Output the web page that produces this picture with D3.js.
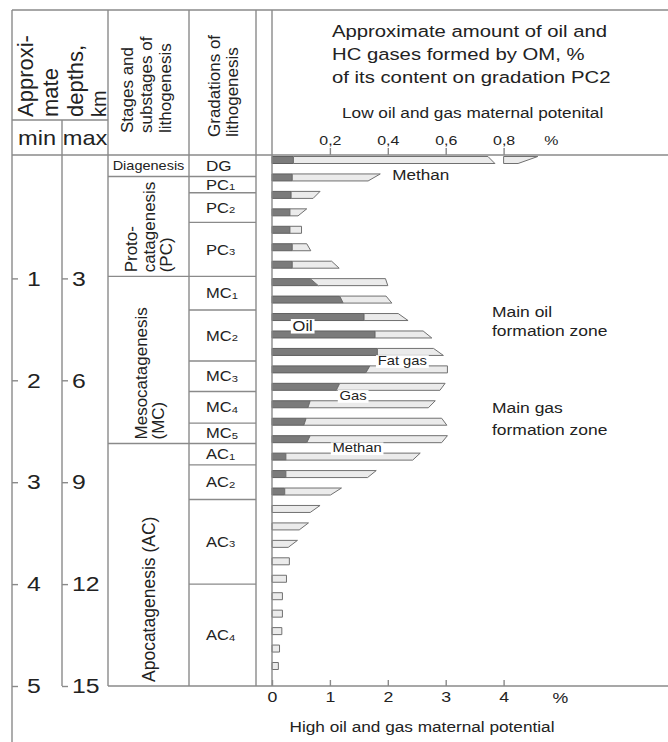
<!DOCTYPE html>
<html><head><meta charset="utf-8">
<script src="https://cdn.jsdelivr.net/npm/d3@7"></script>
<style>
html,body{margin:0;padding:0;background:#fff;}
svg{display:block;font-family:"Liberation Sans", Arial, sans-serif;}
</style></head><body>
<svg id="chart" width="668" height="742"></svg>
<script>
// ---------- data ----------
const minDepthTicks = [1, 2, 3, 4, 5];
const maxDepthTicks = [3, 6, 9, 12, 15];
const stageLabels = [["Diagenesis"], ["Proto-", "catagenesis", "(PC)"], ["Mesocatagenesis", "(MC)"], ["Apocatagenesis (AC)"]];
const stageTop = [null, 0, 0.98, 2.62];      // km of min depth (null = header)
const stageBottom = [0, 0.98, 2.62, 5];
const gradBase = ["DG","PC","PC","PC","MC","MC","MC","MC","MC","AC","AC","AC","AC"];
const gradSub  = ["","1","2","3","1","2","3","4","5","1","2","3","4"];
const gradTop    = [null, 0, 0.16, 0.45, 0.98, 1.31, 1.81, 2.11, 2.42, 2.62, 2.83, 3.17, 4.0];
const gradBottom = [0, 0.16, 0.45, 0.98, 1.31, 1.81, 2.11, 2.42, 2.62, 2.83, 3.17, 4.0, 5.0];
// bars, % (high potential scale); top / bottom edge of the slanted ends
const oilTop = [0.37,0.35,0.33,0.31,0.31,0.35,0.35,0.66,1.17,1.59,1.78,1.82,1.69,1.17,0.66,0.59,0.66,0.24,0.24,0.22,0,0,0,0,0,0,0,0,0,0];
const oilBot = [0.37,0.35,0.33,0.31,0.31,0.35,0.35,0.80,1.23,1.59,1.78,1.82,1.62,1.11,0.62,0.55,0.60,0.24,0.24,0.22,0,0,0,0,0,0,0,0,0,0];
const totTop = [4.59,1.87,0.83,0.60,0.51,0.60,1.03,1.96,1.97,2.18,2.61,2.79,3.03,2.99,2.82,2.93,3.03,2.56,1.80,1.20,0.83,0.63,0.44,0.30,0.25,0.18,0.18,0.17,0.13,0.11];
const totBot = [4.25,1.66,0.71,0.45,0.51,0.67,1.16,2.00,2.07,2.35,2.76,2.96,3.03,2.90,2.70,3.02,2.93,2.43,1.65,1.01,0.66,0.47,0.28,0.30,0.25,0.18,0.18,0.17,0.13,0.11];
const breakFrom = [3.73, 3.85];  // axis break (top, bottom edge)
const breakTo = 4.0;
const topTicks = [0.2, 0.4, 0.6, 0.8];
const bottomTicks = [0, 1, 2, 3, 4];
const titleLines = ["Approximate amount of oil and", "HC gases formed by OM, %", "of its content on gradation PC2"];
const lowLabel = "Low oil and gas maternal potenital";
const highLabel = "High oil and gas maternal potential";
const zoneLabels = [["Main oil", "formation zone"], ["Main gas", "formation zone"]];
const barNotes = [
  {text: "Methan", v: 2.57, a: 1, b: 1, fs: 14.5, bg: false},
  {text: "Oil", v: 0.53, a: 9, b: 10, fs: 14, bg: true},
  {text: "Fat gas", v: 2.25, a: 11, b: 12, fs: 12.5, bg: true},
  {text: "Gas", v: 1.40, a: 13, b: 14, fs: 12.5, bg: true},
  {text: "Methan", v: 1.47, a: 16, b: 17, fs: 12.5, bg: true}
];

// ---------- setup ----------
const S = 1.18;
const svg = d3.select("#chart");
const LC = "#8a8a8a", LW = 1.4, TC = "#222";
const x = d3.scaleLinear().domain([0, 4]).range([272, 503.6]);
const xTop = d3.scaleLinear().domain([0, 0.8]).range([272, 503.6]);
const depth = d3.scaleLinear().domain([0, 5]).range([176.5, 686]);
const depthMax = d3.scaleLinear().domain([0, 15]).range([176.5, 686]);
const barY = d3.scalePoint().domain(d3.range(oilTop.length)).range([160, 666]);
const HEAD = 155;

function line(x1, y1, x2, y2) {
  svg.append("line").attr("x1", x1).attr("y1", y1).attr("x2", x2).attr("y2", y2)
    .attr("stroke", LC).attr("stroke-width", LW);
}
function stext(parent, px, py, str, fs, anchor, rot) {
  return parent.append("text")
    .attr("transform", `translate(${px},${py}) scale(${S},1)` + (rot ? " rotate(-90)" : ""))
    .attr("font-size", fs).attr("text-anchor", anchor || "start").attr("fill", TC).text(str);
}
function stretchAxisText(g) {
  g.selectAll("text").each(function() {
    const t = d3.select(this);
    const tx = +t.attr("x") || 0, ty = +t.attr("y") || 0;
    t.attr("x", null).attr("y", null).attr("transform", `translate(${tx},${ty}) scale(${S},1)`).attr("fill", TC);
  });
}

// ---------- bars ----------
const poly = d3.line();
const bars = svg.append("g");
oilTop.forEach((_, i) => {
  const yT = barY(i) - 3.5, yB = barY(i) + 3.5;
  if (oilTop[i] > 0) {
    bars.append("path").attr("d", poly([[x(0), yT], [x(oilTop[i]), yT], [x(oilBot[i]), yB], [x(0), yB]]) + "Z")
      .attr("fill", "#7b7b7b").attr("stroke", "#606060").attr("stroke-width", 1);
  }
  const pieces = totTop[i] > breakTo
    ? [[[x(oilTop[i]), yT], [x(breakFrom[0]), yT], [x(breakFrom[1]), yB], [x(oilBot[i]), yB]],
       [[x(breakTo), yT], [x(totTop[i]), yT], [x(totBot[i]), yB], [x(breakTo), yB]]]
    : [[[x(oilTop[i]), yT], [x(totTop[i]), yT], [x(totBot[i]), yB], [x(oilBot[i]), yB]]];
  pieces.forEach(p => bars.append("path").attr("d", poly(p) + "Z")
    .attr("fill", "#ebebeb").attr("stroke", "#707070").attr("stroke-width", 1));
});

// ---------- table lines ----------
line(12, 10, 668, 10);
line(12, HEAD, 668, HEAD);
line(12, 120, 108, 120);
line(12, 10, 12, 742);
line(62, 120, 62, 686);
[108, 189, 256, 272].forEach(v => line(v, 10, v, 686));
line(108, 686, 668, 686);
stageTop.forEach(t => { if (t !== null) line(108, depth(t), 256, depth(t)); });
gradTop.forEach(t => { if (t !== null && !stageTop.includes(t)) line(189, depth(t), 256, depth(t)); });

// ---------- header texts ----------
const hd = svg.append("g");
[["Approxi-", 33, 22], ["mate", 58, 22], ["depths,", 83, 22], ["km", 106, 20]].forEach(d =>
  hd.append("text").attr("transform", `translate(${d[1]},117) rotate(-90)`).attr("font-size", d[2]).attr("fill", TC).text(d[0]));
stext(hd, 37, 145, "min", 20, "middle");
stext(hd, 85, 145, "max", 20, "middle");
[["Stages and", 133], ["substages of", 152], ["lithogenesis", 171]].forEach(d =>
  hd.append("text").attr("transform", `translate(${d[1]},133) rotate(-90)`).attr("font-size", 17).attr("fill", TC).text(d[0]));
[["Gradations of", 220], ["lithogenesis", 238]].forEach(d =>
  hd.append("text").attr("transform", `translate(${d[1]},137) rotate(-90)`).attr("font-size", 17).attr("fill", TC).text(d[0]));
titleLines.forEach((t, i) => stext(hd, 332, 37 + i * 23.2, t, 17.2));
stext(hd, 342, 117.5, lowLabel, 14.6);
stext(hd, 422, 731.5, highLabel, 14.6, "middle");

// ---------- stages ----------
const stBase = [[0], [137, 155, 172], [147, 164], [155]];
stageLabels.forEach((lines, i) => {
  const y0 = stageTop[i] === null ? HEAD : depth(stageTop[i]);
  const y1 = depth(stageBottom[i]);
  if (i === 0) {
    stext(svg, 148.5, (y0 + y1) / 2 + 4.5, lines[0], 12.3, "middle");
  } else {
    lines.forEach((l, j) => svg.append("text")
      .attr("transform", `translate(${stBase[i][j]},${y1 - 4}) rotate(-90)`)
      .attr("font-size", i === 3 ? 17.5 : 17).attr("fill", TC).text(l));
  }
});

// ---------- gradations ----------
gradBase.forEach((b, i) => {
  const y0 = gradTop[i] === null ? HEAD : depth(gradTop[i]);
  const y1 = depth(gradBottom[i]);
  const fs = b === "DG" ? 14.5 : 14;
  const t = svg.append("text")
    .attr("transform", `translate(206,${(y0 + y1) / 2 + fs * 0.37}) scale(${S},1)`)
    .attr("font-size", fs).attr("fill", TC);
  t.append("tspan").text(b);
  if (gradSub[i]) t.append("tspan").attr("font-size", 9.5).attr("dy", 0.5).text(gradSub[i]);
});

// ---------- depth axes ----------
const gMin = svg.append("g").attr("transform", "translate(12,0)")
  .call(d3.axisRight(depth).tickValues(minDepthTicks).tickSize(6).tickPadding(9).tickFormat(d3.format("d")));
const gMax = svg.append("g").attr("transform", "translate(62,0)")
  .call(d3.axisRight(depthMax).tickValues(maxDepthTicks).tickSize(6).tickPadding(4).tickFormat(d3.format("d")));
[gMin, gMax].forEach(g => {
  g.select(".domain").remove();
  g.selectAll("line").attr("stroke", LC).attr("stroke-width", LW);
  g.selectAll("text").attr("font-size", 21).attr("font-family", "Liberation Sans, Arial, sans-serif");
  stretchAxisText(g);
});

// ---------- value axes ----------
const comma = d => d3.format(".1f")(d).replace(".", ",");
const gTop = svg.append("g").attr("transform", `translate(0,${HEAD})`)
  .call(d3.axisTop(xTop).tickValues(topTicks).tickSize(7).tickPadding(3).tickFormat(comma));
const gBot = svg.append("g").attr("transform", "translate(0,686)")
  .call(d3.axisBottom(x).tickValues(bottomTicks).tickSize(-6).tickPadding(5).tickFormat(d3.format("d")));
[[gTop, 13.5], [gBot, 15]].forEach(([g, fs]) => {
  g.select(".domain").remove();
  g.selectAll("line").attr("stroke", LC).attr("stroke-width", LW);
  g.selectAll("text").attr("font-size", fs).attr("font-family", "Liberation Sans, Arial, sans-serif");
  stretchAxisText(g);
});
stext(svg, xTop(0.965), 145, "%", 13.5, "middle");
stext(svg, x(4.98), 702.5, "%", 15, "middle");

// ---------- annotations ----------
barNotes.forEach(n => {
  const cy = (barY(n.a) + barY(n.b)) / 2 - (n.a === n.b ? 3 : 0);
  const g = svg.append("g").attr("transform", `translate(${x(n.v)},${cy}) scale(${S},1)`);
  const t = g.append("text").attr("font-size", n.fs).attr("text-anchor", "middle").attr("dy", "0.36em").attr("fill", TC).text(n.text);
  if (n.bg) {
    const bb = t.node().getBBox();
    g.insert("rect", "text").attr("x", bb.x - 1.5).attr("y", bb.y + 1).attr("width", bb.width + 3).attr("height", bb.height - 1).attr("fill", "#fff");
  }
});
zoneLabels.forEach((lines, k) => {
  const base = k === 0 ? [316.7, 335.5] : [413, 435];
  lines.forEach((l, j) => stext(svg, 492, base[j], l, 14.8));
});
</script>
</body></html>
